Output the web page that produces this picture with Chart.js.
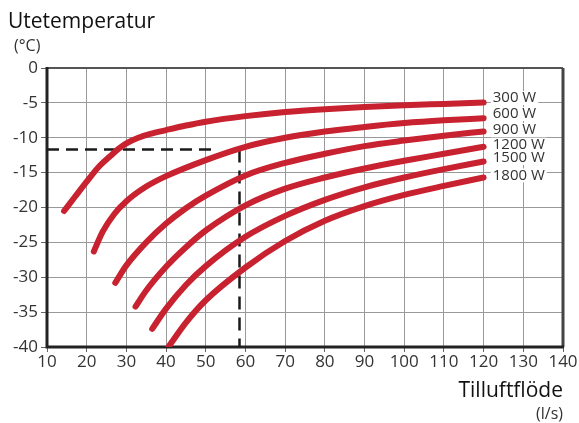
<!DOCTYPE html>
<html>
<head>
<meta charset="utf-8">
<script src="https://cdn.jsdelivr.net/npm/chart.js@4"></script>
<style>
  html, body { margin: 0; padding: 0; background: #fff; }
  #wrap { width: 579px; height: 423px; position: relative; }
</style>
</head>
<body>
<div id="wrap"><canvas id="myChart"></canvas></div>
<script>
// air flow (l/s) and outdoor temperature (°C) per heating power
const flow300 = [14.3, 17, 20, 23, 26, 28, 30, 33, 36, 40, 45, 50, 60, 70, 80, 90, 100, 110, 120];
const temp300 = [-20.5, -18.5, -16.3, -14.2, -12.6, -11.6, -10.8, -10.0, -9.45, -8.9, -8.25, -7.7, -6.9, -6.3, -5.9, -5.6, -5.35, -5.15, -4.95];
const flow600 = [21.8, 24, 27, 30, 35, 40, 50, 60, 70, 80, 90, 100, 110, 120];
const temp600 = [-26.3, -23.5, -20.9, -19.1, -17.0, -15.5, -13.2, -11.3, -10.0, -9.1, -8.45, -7.9, -7.5, -7.2];
const flow900 = [27.2, 30, 35, 40, 45, 50, 60, 70, 80, 90, 100, 110, 120];
const temp900 = [-30.8, -28.3, -25.0, -22.3, -20.1, -18.3, -15.4, -13.6, -12.3, -11.2, -10.4, -9.7, -9.1];
const flow1200 = [32.3, 35, 40, 45, 50, 60, 70, 80, 90, 100, 110, 120];
const temp1200 = [-34.2, -31.9, -28.5, -25.7, -23.3, -19.7, -17.3, -15.7, -14.4, -13.3, -12.3, -11.3];
const flow1500 = [36.5, 40, 45, 50, 60, 70, 80, 90, 100, 110, 120];
const temp1500 = [-37.4, -34.5, -31.1, -28.4, -24.2, -21.2, -18.9, -17.1, -15.7, -14.5, -13.4];
const flow1800 = [40.7, 45, 50, 60, 70, 80, 90, 100, 110, 120];
const temp1800 = [-39.9, -36.5, -33.3, -28.6, -24.8, -21.9, -19.8, -18.2, -16.9, -15.7];

const seriesLabels = ["300 W", "600 W", "900 W", "1200 W", "1500 W", "1800 W"];
const labelY = [-4.3, -6.6, -8.9, -11.0, -12.9, -15.4];
const labelX = 122.3;

// example reading (dashed guide lines)
const exampleFlow = 58.5;
const exampleTemp = -11.7;
const guideEndFlow = 52.7;

const xTicks = [10, 20, 30, 40, 50, 60, 70, 80, 90, 100, 110, 120, 130, 140];

const red = "#c8212f";
const font = "'Open Sans', 'DejaVu Sans', sans-serif";

function pts(xs, ys) {
  return xs.map((x, i) => ({ x: x, y: ys[i] }));
}

const curves = [
  pts(flow300, temp300), pts(flow600, temp600), pts(flow900, temp900),
  pts(flow1200, temp1200), pts(flow1500, temp1500), pts(flow1800, temp1800)
];

const datasets = curves.map((c, i) => ({
  label: seriesLabels[i],
  data: c,
  showLine: true,
  borderColor: red,
  borderWidth: 6,
  borderCapStyle: "round",
  borderJoinStyle: "round",
  pointRadius: 0,
  cubicInterpolationMode: "monotone",
  order: 1
}));

datasets.push({
  label: "guideH",
  data: [{ x: 10, y: exampleTemp }, { x: guideEndFlow, y: exampleTemp }],
  showLine: true,
  borderColor: "#1a1a1a",
  borderWidth: 2.5,
  borderDash: [12, 7],
  pointRadius: 0,
  order: 2
});
datasets.push({
  label: "guideV",
  data: [{ x: exampleFlow, y: exampleTemp }, { x: exampleFlow, y: -40 }],
  showLine: true,
  borderColor: "#1a1a1a",
  borderWidth: 2.5,
  borderDash: [13, 8],
  pointRadius: 0,
  order: 2
});

const decor = {
  id: "decor",
  beforeDatasetsDraw(chart) {
    const { ctx, chartArea: a } = chart;
    ctx.save();
    ctx.strokeStyle = "#555";
    ctx.lineWidth = 2;
    ctx.beginPath();
    ctx.moveTo(a.left, a.top);
    ctx.lineTo(a.right, a.top);
    ctx.stroke();
    ctx.strokeStyle = "#444";
    ctx.lineWidth = 3;
    ctx.beginPath();
    ctx.moveTo(a.right, a.top);
    ctx.lineTo(a.right, a.bottom);
    ctx.stroke();
    ctx.strokeStyle = "#222";
    ctx.lineWidth = 3;
    ctx.beginPath();
    ctx.moveTo(a.left, a.top - 1);
    ctx.lineTo(a.left, a.bottom);
    ctx.lineTo(a.right + 1, a.bottom);
    ctx.stroke();
    ctx.restore();
  },
  afterDatasetsDraw(chart) {
    const { ctx } = chart;
    const xs = chart.scales.x, ys = chart.scales.y;
    ctx.save();
    ctx.font = "15px " + font;
    ctx.textBaseline = "middle";
    seriesLabels.forEach((t, i) => {
      const px = xs.getPixelForValue(labelX);
      const py = ys.getPixelForValue(labelY[i]);
      const w = ctx.measureText(t).width;
      ctx.fillStyle = "#fff";
      ctx.fillRect(px - 2, py - 7, w + 4, 14);
    });
    seriesLabels.forEach((t, i) => {
      const px = xs.getPixelForValue(labelX);
      const py = ys.getPixelForValue(labelY[i]);
      ctx.fillStyle = "#333";
      ctx.fillText(t, px, py);
    });
    ctx.fillStyle = "#111";
    ctx.textBaseline = "alphabetic";
    ctx.textAlign = "left";
    ctx.font = "21px " + font;
    ctx.fillText("Utetemperatur", 8, 28);
    ctx.fillStyle = "#333";
    ctx.font = "16px " + font;
    ctx.fillText("(°C)", 14, 51);
    ctx.textAlign = "right";
    ctx.fillStyle = "#111";
    ctx.font = "21px " + font;
    ctx.fillText("Tilluftflöde", 563, 397);
    ctx.fillStyle = "#333";
    ctx.font = "16px " + font;
    ctx.fillText("(l/s)", 563, 419);
    ctx.restore();
  }
};

const ctx = document.getElementById("myChart").getContext("2d");
new Chart(ctx, {
  type: "scatter",
  data: { datasets: datasets },
  options: {
    responsive: true,
    maintainAspectRatio: false,
    animation: false,
    layout: { padding: { top: 68, right: 16, bottom: 0, left: 0 } },
    plugins: {
      legend: { display: false },
      tooltip: { enabled: false }
    },
    scales: {
      x: {
        type: "linear",
        min: 10,
        max: 140,
        afterBuildTicks: (scale) => { scale.ticks = xTicks.map((v) => ({ value: v })); },
        afterFit: (scale) => { scale.height = 76; },
        grid: { color: "#999", lineWidth: 1, tickLength: 5, tickColor: "#666" },
        border: { display: false },
        ticks: { color: "#333", font: { family: font, size: 17 }, padding: 0, maxRotation: 0 }
      },
      y: {
        type: "linear",
        min: -40,
        max: 0,
        afterFit: (scale) => { scale.width = 47; },
        grid: { color: "#999", lineWidth: 1, tickLength: 6, tickColor: "#666" },
        border: { display: false },
        ticks: { stepSize: 5, color: "#333", font: { family: font, size: 17 }, padding: 3 }
      }
    }
  },
  plugins: [decor]
});
</script>
</body>
</html>
